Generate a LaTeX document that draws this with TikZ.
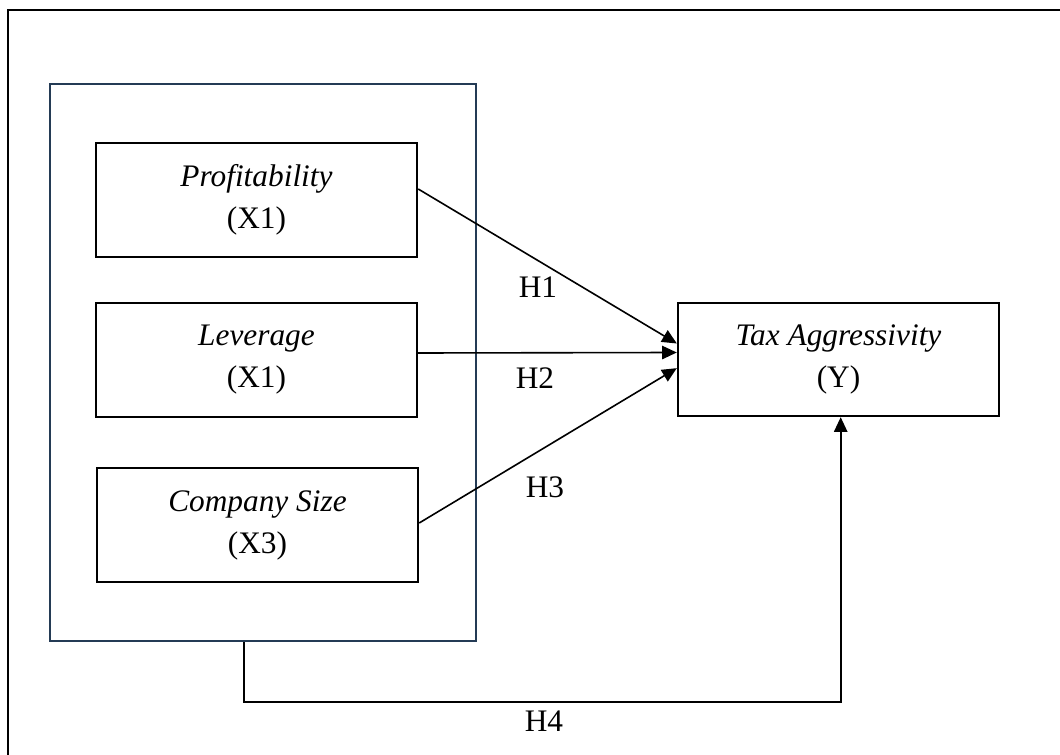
\documentclass[tikz,border=0pt]{standalone}
\usepackage{fontspec}
\setmainfont{Liberation Serif}
\usetikzlibrary{arrows.meta,calc}
\definecolor{navy}{HTML}{243B55}
\tikzset{
  varbox/.style={draw=black, line width=1.8pt, minimum width=240.75pt, minimum height=85.5pt, align=center, inner sep=0pt, font=\fontsize{23.5}{31.5}\selectfont},
  grpbox/.style={draw=navy, line width=1.5pt, minimum width=319.5pt, minimum height=417.75pt, inner sep=0pt},
  arr/.style={line width=1.2pt, -{Triangle[length=11pt,width=10pt]}},
  hlab/.style={font=\fontsize{23.5}{27}\selectfont, inner sep=0pt},
  frame/.style={line width=1.6pt}
}
\begin{document}
\begin{tikzpicture}[x=0.75pt,y=-0.75pt]
\useasboundingbox (0,0) rectangle (1060,755);
% outer frame (extends beyond picture right and bottom)
\coordinate (fbl) at (8,760);
\coordinate (ftl) at (8,10);
\coordinate (ftr) at (1065,10);
\draw[frame] (fbl) -- (ftl) -- (ftr);
% group box
\node[grpbox] (grp) at (263,362.5) {};
% variable boxes
\node[varbox] (prof) at (256.5,200) {\textit{Profitability}\\(X1)};
\node[varbox] (lev) at (256.5,360) {\textit{Leverage}\\(X1)};
\node[varbox] (comp) at (257.5,525) {\textit{Company Size}\\(X3)};
\node[varbox, minimum height=84.75pt] (tax) at (838.5,359.5) {\textit{Tax Aggressivity}\\(Y)};
% arrows
\draw[arr] ([yshift=8.25pt]prof.east) -- ([yshift=12pt]tax.west);
\draw[arr] ([yshift=5.25pt]lev.east) -- ([yshift=5.25pt]tax.west);
\draw[arr] ([yshift=1.5pt]comp.east) -- ([yshift=-6.5pt]tax.west);
\coordinate (h4r) at (840.7,702);
\draw[arr] ([xshift=-14.25pt]grp.south) |- (h4r) -- (h4r |- tax.south);
% labels
\node[hlab] (h1) at (538,287) {H1};
\node[hlab] (h2) at (535,378) {H2};
\node[hlab] (h3) at (545,487) {H3};
\node[hlab] (h4) at (544,721) {H4};
\end{tikzpicture}
\end{document}
